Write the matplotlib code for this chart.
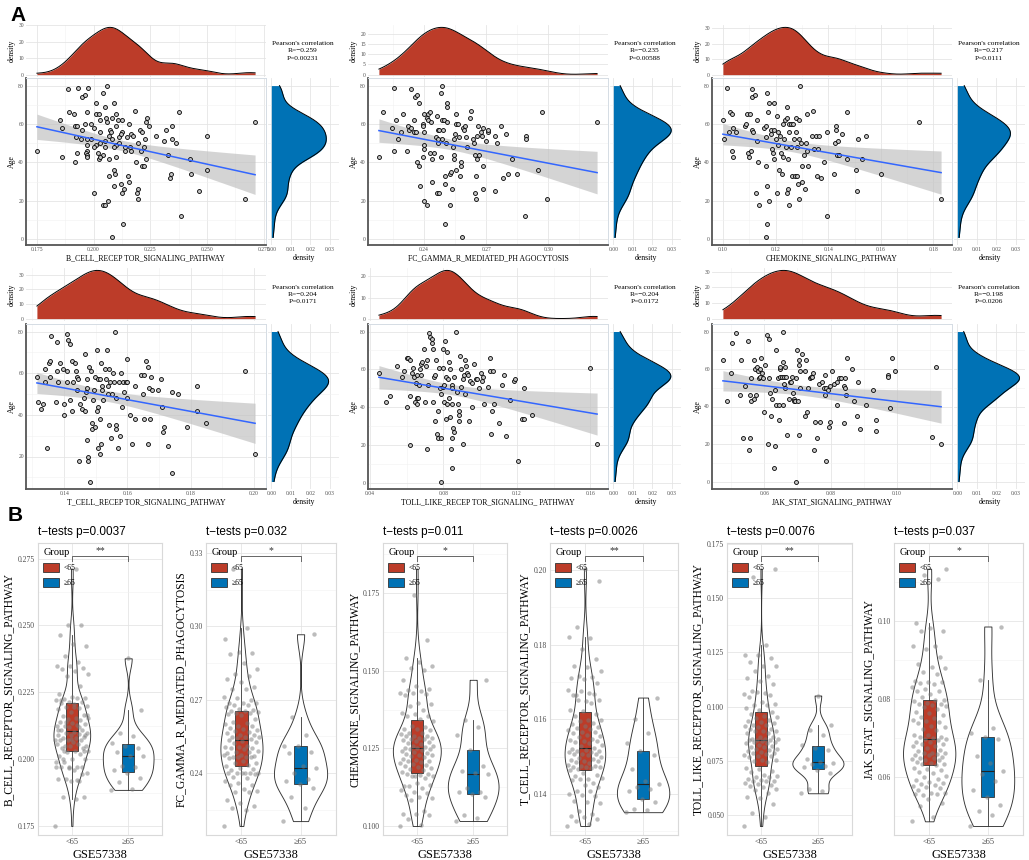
import numpy as np
import matplotlib.pyplot as plt
from matplotlib.ticker import MultipleLocator, FormatStrFormatter
from matplotlib.patches import Patch

plt.rcParams['font.family'] = ['Liberation Serif', 'DejaVu Serif']

# ---- data: (pathway score, age) per sample ----
bcell_pts = [
    (0.1750, 46), (0.1852, 62), (0.1860, 58), (0.1860, 43), (0.1885, 78), (0.1890, 66), (0.1915, 65),
    (0.1920, 59), (0.1927, 59), (0.1920, 40), (0.1927, 45), (0.1930, 79), (0.1950, 74), (0.1960, 75),
    (0.1950, 57), (0.1960, 60), (0.1970, 66), (0.1975, 79), (0.1970, 52), (0.1970, 46), (0.1965, 45),
    (0.1970, 44), (0.1970, 43), (0.1990, 60), (0.2000, 24), (0.2000, 58), (0.2011, 71), (0.2010, 65),
    (0.2025, 65), (0.2010, 49), (0.2020, 45), (0.2025, 42), (0.2030, 62), (0.2030, 56), (0.2040, 76),
    (0.2050, 69), (0.2040, 44), (0.2043, 18), (0.2050, 18), (0.2060, 80), (0.2055, 63), (0.2058, 61),
    (0.2050, 51), (0.2050, 48), (0.2064, 20), (0.2070, 33), (0.2070, 42), (0.2073, 57), (0.2070, 54),
    (0.2080, 63), (0.2080, 52), (0.2083, 1), (0.2088, 71), (0.2090, 36), (0.2090, 28), (0.2095, 34),
    (0.2098, 65), (0.2098, 59), (0.2098, 49), (0.2100, 43), (0.2108, 62), (0.2110, 50), (0.2120, 29),
    (0.2123, 24), (0.2127, 62), (0.2125, 56), (0.2130, 8), (0.2134, 26), (0.2137, 46), (0.2146, 53),
    (0.2150, 33), (0.2155, 30), (0.2155, 60), (0.2160, 48), (0.2165, 55), (0.2175, 54), (0.2183, 67),
    (0.2186, 40), (0.2190, 24), (0.2196, 21), (0.2197, 26), (0.2205, 57), (0.2210, 46), (0.2215, 56),
    (0.2212, 38), (0.2222, 38), (0.2230, 42), (0.2225, 52), (0.2230, 61), (0.2234, 63), (0.2244, 59),
    (0.2275, 54), (0.2310, 51), (0.2320, 57), (0.2330, 44), (0.2336, 32), (0.2340, 34), (0.2347, 59),
    (0.2347, 52), (0.2365, 50), (0.2377, 66), (0.2386, 12), (0.2424, 42), (0.2430, 34), (0.2466, 25),
    (0.2500, 54), (0.2501, 36), (0.2668, 21), (0.2712, 61), (0.2000, 48), (0.2030, 50), (0.2077, 56),
    (0.2110, 53), (0.2120, 55), (0.2140, 48), (0.2165, 46), (0.2195, 50), (0.2220, 48), (0.1945, 52),
    (0.1970, 49), (0.1990, 52), (0.1922, 53), (0.2030, 43), (0.2090, 48),
]
fcgamma_pts = [
    (0.2183, 43), (0.2203, 66), (0.2248, 58), (0.2256, 79), (0.2256, 46), (0.2265, 62), (0.2275, 52),
    (0.2288, 56), (0.2300, 65), (0.2320, 46), (0.2323, 59), (0.2327, 57), (0.2336, 58), (0.2339, 78),
    (0.2352, 62), (0.2352, 56), (0.2355, 74), (0.2360, 56), (0.2368, 75), (0.2368, 40), (0.2374, 71),
    (0.2378, 38), (0.2382, 28), (0.2395, 60), (0.2398, 59), (0.2400, 49), (0.2400, 47), (0.2398, 43),
    (0.2400, 65), (0.2400, 56), (0.2400, 20), (0.2413, 18), (0.2416, 63), (0.2419, 65), (0.2422, 62),
    (0.2427, 66), (0.2427, 45), (0.2432, 61), (0.2439, 42), (0.2440, 30), (0.2448, 45), (0.2459, 53),
    (0.2464, 64), (0.2464, 24), (0.2472, 24), (0.2467, 57), (0.2467, 52), (0.2470, 50), (0.2475, 57),
    (0.2480, 43), (0.2483, 76), (0.2487, 80), (0.2487, 62), (0.2487, 52), (0.2491, 57), (0.2496, 62),
    (0.2500, 29), (0.2503, 8), (0.2504, 33), (0.2508, 50), (0.2511, 71), (0.2511, 69), (0.2512, 61),
    (0.2524, 18), (0.2528, 34), (0.2532, 35), (0.2536, 26), (0.2540, 48), (0.2543, 52), (0.2545, 44),
    (0.2545, 42), (0.2548, 55), (0.2556, 60), (0.2557, 65), (0.2557, 36), (0.2564, 60), (0.2567, 53),
    (0.2572, 33), (0.2577, 38), (0.2580, 40), (0.2585, 1), (0.2590, 58), (0.2593, 57), (0.2599, 59),
    (0.2604, 53), (0.2609, 48), (0.2620, 63), (0.2628, 67), (0.2636, 52), (0.2640, 50), (0.2644, 44),
    (0.2644, 24), (0.2650, 21), (0.2652, 33), (0.2655, 42), (0.2657, 54), (0.2660, 59), (0.2668, 44),
    (0.2676, 56), (0.2679, 54), (0.2684, 58), (0.2684, 38), (0.2684, 26), (0.2700, 51), (0.2708, 56),
    (0.2711, 57), (0.2743, 54), (0.2743, 25), (0.2753, 50), (0.2772, 59), (0.2783, 32), (0.2795, 55),
    (0.2804, 34), (0.2825, 42), (0.2849, 34), (0.2885, 12), (0.2890, 54), (0.2894, 52), (0.2949, 36),
    (0.2967, 66), (0.2994, 21), (0.3235, 61),
]
chemokine_pts = [
    (0.1000, 62), (0.1004, 52), (0.1016, 79), (0.1023, 56), (0.1027, 66), (0.1035, 65), (0.1035, 46),
    (0.1038, 43), (0.1038, 58), (0.1048, 56), (0.1084, 59), (0.1089, 60), (0.1092, 65), (0.1095, 45),
    (0.1099, 43), (0.1103, 65), (0.1105, 46), (0.1109, 78), (0.1111, 74), (0.1111, 57), (0.1115, 56),
    (0.1122, 75), (0.1124, 24), (0.1128, 62), (0.1133, 40), (0.1137, 18), (0.1130, 51), (0.1156, 58),
    (0.1162, 53), (0.1162, 38), (0.1165, 59), (0.1166, 28), (0.1168, 76), (0.1166, 8), (0.1162, 1),
    (0.1172, 66), (0.1175, 20), (0.1177, 71), (0.1181, 57), (0.1184, 55), (0.1187, 47), (0.1190, 45),
    (0.1194, 71), (0.1194, 42), (0.1196, 57), (0.1200, 52), (0.1204, 24), (0.1206, 64), (0.1209, 56),
    (0.1209, 49), (0.1213, 36), (0.1216, 54), (0.1222, 45), (0.1225, 34), (0.1228, 60), (0.1229, 43),
    (0.1232, 52), (0.1235, 62), (0.1238, 48), (0.1242, 63), (0.1244, 69), (0.1244, 24), (0.1247, 26),
    (0.1247, 42), (0.1250, 18), (0.1250, 60), (0.1253, 56), (0.1257, 60), (0.1259, 48), (0.1263, 33),
    (0.1267, 60), (0.1270, 52), (0.1273, 33), (0.1276, 56), (0.1279, 63), (0.1280, 48), (0.1282, 33),
    (0.1285, 29), (0.1289, 62), (0.1289, 52), (0.1291, 21), (0.1292, 80), (0.1295, 50), (0.1299, 30),
    (0.1301, 38), (0.1308, 44), (0.1311, 26), (0.1314, 50), (0.1318, 65), (0.1320, 46), (0.1323, 38),
    (0.1337, 54), (0.1343, 67), (0.1346, 47), (0.1353, 54), (0.1356, 33), (0.1361, 47), (0.1365, 54),
    (0.1373, 32), (0.1386, 40), (0.1394, 56), (0.1396, 12), (0.1422, 34), (0.1425, 50), (0.1428, 59),
    (0.1430, 57), (0.1434, 44), (0.1437, 51), (0.1441, 44), (0.1451, 55), (0.1470, 42), (0.1471, 66),
    (0.1504, 36), (0.1510, 25), (0.1514, 52), (0.1528, 42), (0.1542, 54), (0.1599, 34), (0.1744, 61),
    (0.1829, 21),
]
tcell_pts = [
    (0.1314, 58), (0.1319, 46), (0.1328, 43), (0.1332, 45), (0.1338, 56), (0.1340, 62), (0.1346, 24),
    (0.1351, 65), (0.1356, 66), (0.1359, 78), (0.1354, 58), (0.1375, 46), (0.1377, 75), (0.1379, 61),
    (0.1380, 56), (0.1387, 65), (0.1395, 62), (0.1398, 40), (0.1401, 45), (0.1408, 79), (0.1409, 56),
    (0.1412, 76), (0.1409, 61), (0.1419, 74), (0.1419, 47), (0.1424, 42), (0.1426, 66), (0.1435, 65),
    (0.1437, 61), (0.1429, 56), (0.1440, 58), (0.1443, 57), (0.1440, 52), (0.1447, 18), (0.1450, 45),
    (0.1455, 43), (0.1464, 48), (0.1466, 69), (0.1468, 51), (0.1466, 42), (0.1471, 57), (0.1471, 53),
    (0.1471, 28), (0.1474, 20), (0.1474, 18), (0.1478, 63), (0.1482, 8), (0.1485, 61), (0.1487, 33),
    (0.1489, 36), (0.1492, 47), (0.1494, 52), (0.1497, 58), (0.1499, 34), (0.1503, 71), (0.1503, 42),
    (0.1506, 57), (0.1508, 24), (0.1508, 44), (0.1513, 21), (0.1513, 38), (0.1514, 57), (0.1516, 65),
    (0.1516, 26), (0.1518, 52), (0.1520, 54), (0.1524, 47), (0.1529, 62), (0.1531, 57), (0.1536, 71),
    (0.1537, 54), (0.1539, 50), (0.1541, 62), (0.1542, 35), (0.1545, 56), (0.1548, 29), (0.1552, 50),
    (0.1555, 60), (0.1558, 56), (0.1562, 80), (0.1564, 33), (0.1565, 35), (0.1565, 48), (0.1570, 24),
    (0.1573, 56), (0.1576, 30), (0.1579, 60), (0.1583, 44), (0.1586, 56), (0.1589, 51), (0.1594, 56),
    (0.1597, 56), (0.1599, 48), (0.1600, 67), (0.1608, 40), (0.1613, 26), (0.1623, 38), (0.1625, 54),
    (0.1644, 59), (0.1652, 59), (0.1652, 38), (0.1649, 50), (0.1658, 66), (0.1665, 63), (0.1668, 53),
    (0.1675, 58), (0.1678, 52), (0.1670, 38), (0.1665, 26), (0.1696, 52), (0.1707, 57), (0.1710, 44),
    (0.1712, 32), (0.1715, 34), (0.1728, 25), (0.1740, 51), (0.1742, 12), (0.1761, 50), (0.1788, 34),
    (0.1820, 42), (0.1818, 54), (0.1848, 36), (0.1971, 61), (0.2003, 21),
]
toll_pts = [
    (0.0449, 58), (0.0489, 43), (0.0509, 46), (0.0549, 62), (0.0576, 56), (0.0585, 59), (0.0600, 40),
    (0.0600, 66), (0.0609, 66), (0.0616, 20), (0.0618, 46), (0.0620, 65), (0.0631, 58), (0.0635, 61),
    (0.0640, 56), (0.0645, 43), (0.0649, 53), (0.0655, 42), (0.0658, 57), (0.0658, 45), (0.0662, 45),
    (0.0667, 52), (0.0673, 60), (0.0676, 57), (0.0680, 63), (0.0685, 64), (0.0695, 71), (0.0698, 43),
    (0.0704, 62), (0.0709, 65), (0.0713, 18), (0.0718, 52), (0.0722, 79), (0.0727, 77), (0.0736, 76),
    (0.0740, 74), (0.0745, 71), (0.0745, 43), (0.0749, 56), (0.0753, 57), (0.0753, 33), (0.0758, 65),
    (0.0767, 26), (0.0771, 24), (0.0773, 38), (0.0776, 61), (0.0782, 50), (0.0785, 24), (0.0785, 47),
    (0.0789, 1), (0.0795, 51), (0.0800, 61), (0.0800, 71), (0.0804, 43), (0.0804, 52), (0.0807, 75),
    (0.0813, 56), (0.0813, 34), (0.0818, 42), (0.0822, 69), (0.0825, 55), (0.0831, 45), (0.0831, 64),
    (0.0835, 35), (0.0836, 60), (0.0840, 18), (0.0844, 52), (0.0845, 8), (0.0845, 24), (0.0849, 42),
    (0.0849, 50), (0.0851, 29), (0.0858, 27), (0.0858, 56), (0.0867, 80), (0.0876, 48), (0.0880, 42),
    (0.0885, 38), (0.0885, 36), (0.0885, 33), (0.0891, 67), (0.0895, 51), (0.0898, 60), (0.0904, 55),
    (0.0909, 21), (0.0913, 57), (0.0916, 65), (0.0916, 47), (0.0922, 62), (0.0927, 58), (0.0935, 57),
    (0.0940, 33), (0.0945, 54), (0.0953, 40), (0.0958, 53), (0.0964, 63), (0.0976, 55), (0.0985, 55),
    (0.0995, 50), (0.1007, 58), (0.1009, 54), (0.1013, 56), (0.1022, 42), (0.1044, 51), (0.1051, 66),
    (0.1053, 59), (0.1067, 59), (0.1058, 26), (0.1064, 38), (0.1073, 42), (0.1104, 32), (0.1116, 52),
    (0.1131, 57), (0.1140, 25), (0.1164, 44), (0.1185, 54), (0.1189, 55), (0.1207, 12), (0.1225, 34),
    (0.1240, 34), (0.1236, 50), (0.1282, 36), (0.1598, 61), (0.1636, 21),
]
jak_pts = [
    (0.0475, 65), (0.0487, 43), (0.0499, 58), (0.0502, 74), (0.0514, 79), (0.0527, 46), (0.0529, 65),
    (0.0535, 23), (0.0543, 51), (0.0550, 75), (0.0556, 23), (0.0556, 46), (0.0555, 17), (0.0560, 55),
    (0.0560, 43), (0.0568, 65), (0.0568, 44), (0.0573, 60), (0.0575, 46), (0.0578, 61), (0.0581, 59),
    (0.0583, 55), (0.0586, 60), (0.0588, 56), (0.0591, 66), (0.0593, 58), (0.0596, 55), (0.0600, 37),
    (0.0603, 62), (0.0608, 78), (0.0611, 20), (0.0613, 55), (0.0615, 76), (0.0618, 47), (0.0620, 35),
    (0.0623, 44), (0.0630, 7), (0.0633, 19), (0.0633, 49), (0.0636, 41), (0.0636, 70), (0.0640, 55),
    (0.0643, 33), (0.0643, 41), (0.0646, 60), (0.0648, 61), (0.0648, 56), (0.0653, 56), (0.0655, 80),
    (0.0656, 41), (0.0658, 64), (0.0660, 52), (0.0661, 56), (0.0663, 50), (0.0663, 61), (0.0667, 56),
    (0.0669, 25), (0.0674, 44), (0.0679, 53), (0.0681, 53), (0.0684, 56), (0.0686, 47), (0.0689, 44),
    (0.0691, 43), (0.0694, 43), (0.0697, 55), (0.0697, 0), (0.0699, 70), (0.0701, 43), (0.0704, 25),
    (0.0704, 65), (0.0704, 62), (0.0707, 59), (0.0707, 50), (0.0714, 68), (0.0722, 35), (0.0724, 59),
    (0.0726, 65), (0.0729, 37), (0.0731, 50), (0.0739, 55), (0.0741, 56), (0.0744, 56), (0.0747, 58),
    (0.0751, 17), (0.0754, 32), (0.0759, 23), (0.0764, 52), (0.0767, 32), (0.0774, 53), (0.0779, 50),
    (0.0782, 57), (0.0784, 46), (0.0787, 11), (0.0787, 50), (0.0791, 49), (0.0795, 29), (0.0798, 32),
    (0.0805, 59), (0.0799, 51), (0.0812, 52), (0.0820, 41), (0.0820, 53), (0.0825, 55), (0.0832, 55),
    (0.0840, 51), (0.0842, 31), (0.0845, 50), (0.0845, 55), (0.0847, 46), (0.0850, 66), (0.0865, 60),
    (0.0870, 43), (0.0880, 35), (0.0882, 53), (0.0890, 28), (0.0908, 41), (0.0929, 49), (0.0936, 33),
    (0.0936, 27), (0.0974, 57), (0.0974, 56), (0.0981, 39), (0.0986, 66), (0.0996, 59), (0.1107, 24),
    (0.1119, 61), (0.1134, 20),
]

scatter_xlabels = ['B_CELL_RECEP TOR_SIGNALING_PATHWAY', 'FC_GAMMA_R_MEDIATED_PH AGOCYTOSIS',
                   'CHEMOKINE_SIGNALING_PATHWAY', 'T_CELL_RECEP TOR_SIGNALING_PATHWAY',
                   'TOLL_LIKE_RECEP TOR_SIGNALING_ PATHWAY', 'JAK_STAT_SIGNALING_PATHWAY']
violin_ylabels = ['B_CELL_RECEPTOR_SIGNALING_PATHWAY', 'FC_GAMMA_R_MEDIATED_PHAGOCYTOSIS',
                  'CHEMOKINE_SIGNALING_PATHWAY', 'T_CELL_RECEPTOR_SIGNALING_PATHWAY',
                  'TOLL_LIKE_RECEPTOR_SIGNALING_PATHWAY', 'JAK_STAT_SIGNALING_PATHWAY']
pearson_r = ['−0.259', '−0.235', '−0.217', '−0.204', '−0.204', '−0.198']
pearson_p = ['0.00231', '0.00588', '0.0111', '0.0171', '0.0172', '0.0206']
ttest_p = ['0.0037', '0.032', '0.011', '0.0026', '0.0076', '0.037']
signif = ['**', '*', '*', '**', '**', '*']
group_labels = ['<65', '≥65']

all_pts = [bcell_pts, fcgamma_pts, chemokine_pts, tcell_pts, toll_pts, jak_pts]

# axis tick steps / formats (style)
scatter_xstep = [0.025, 0.03, 0.02, 0.02, 0.04, 0.02]
scatter_xfmt = ['%.3f', '%.2f', '%.2f', '%.2f', '%.2f', '%.2f']
dens_ystep = [10, 5, 10, 10, 10, 10]
violin_ystep = [0.025, 0.03, 0.025, 0.02, 0.025, 0.02]
violin_yfmt = ['%.3f', '%.2f', '%.3f', '%.2f', '%.3f', '%.2f']

RED = '#BC3C29'
BLUE = '#0072B5'
W, H = 1029, 860


def rect(l, t, w, h):
    return [l / W, 1 - (t + h) / H, w / W, h / H]


def bw_nrd0(v):
    sd = np.std(v, ddof=1)
    q75, q25 = np.percentile(v, [75, 25])
    lo = min(sd, (q75 - q25) / 1.34)
    if lo <= 0:
        lo = sd
    return 0.9 * lo * len(v) ** -0.2


def kde(v, grid):
    bw = bw_nrd0(v)
    z = (grid[:, None] - v[None, :]) / bw
    return np.exp(-0.5 * z ** 2).sum(1) / (len(v) * bw * np.sqrt(2 * np.pi))


def lm_band(x, y, xs):
    n = len(x)
    b, a = np.polyfit(x, y, 1)
    res = y - (a + b * x)
    s = np.sqrt((res ** 2).sum() / (n - 2))
    se = s * np.sqrt(1 / n + (xs - x.mean()) ** 2 / ((x - x.mean()) ** 2).sum())
    df = n - 2
    z = 1.959964
    t = z + (z ** 3 + z) / (4 * df) + (5 * z ** 5 + 16 * z ** 3 + 3 * z) / (96 * df ** 2)
    return a + b * xs, t * se


def light_grid(ax, which='both'):
    ax.set_axisbelow(True)
    ax.grid(which='major', axis=which, color='#E3E3E3', lw=0.55)
    ax.grid(which='minor', axis=which, color='#F1F1F1', lw=0.4)


fig = plt.figure(figsize=(W / 100, H / 100), dpi=100)
fig.text(10 / W, 1 - 6 / H, 'A', fontsize=15, fontweight='bold', family='Liberation Sans', va='top')
fig.text(8 / W, 1 - 506 / H, 'B', fontsize=15, fontweight='bold', family='Liberation Sans', va='top')

col_left = [26, 368, 712]
row_geo = [(25, 52, 78, 167), (268, 53, 324, 165)]  # density top, height, scatter top, height

for k, pts in enumerate(all_pts):
    arr = np.array(pts, dtype=float)
    x, age = arr[:, 0], arr[:, 1]
    r, c = divmod(k, 3)
    L = col_left[c]
    dt, dh, st, sh = row_geo[r]

    ax = fig.add_axes(rect(L, st, 240, sh))
    axt = fig.add_axes(rect(L, dt, 240, dh), sharex=ax)
    axr = fig.add_axes(rect(L + 242, st, 71, sh), sharey=ax)

    # scatter + lm fit
    xs = np.linspace(x.min(), x.max(), 100)
    fit, ci = lm_band(x, age, xs)
    ax.fill_between(xs, fit - ci, fit + ci, color='#BEBEBE', alpha=0.65, lw=0, zorder=2)
    ax.scatter(x, age, s=8, facecolor='#C4C4C4', edgecolor='black', linewidth=0.6, zorder=3)
    ax.plot(xs, fit, color='#3366FF', lw=1.1, zorder=4)
    ax.xaxis.set_major_locator(MultipleLocator(scatter_xstep[k]))
    ax.xaxis.set_minor_locator(MultipleLocator(scatter_xstep[k] / 2))
    ax.xaxis.set_major_formatter(FormatStrFormatter(scatter_xfmt[k]))
    ax.yaxis.set_major_locator(MultipleLocator(20))
    ax.yaxis.set_minor_locator(MultipleLocator(10))
    light_grid(ax)
    ax.tick_params(which='both', length=0, labelsize=4, labelcolor='#4D4D4D', pad=1.5)
    for s in ['left', 'bottom']:
        ax.spines[s].set_color('#555555')
        ax.spines[s].set_linewidth(1.3)
    for s in ['top', 'right']:
        ax.spines[s].set_color('#D5DCE4')
        ax.spines[s].set_linewidth(0.7)
    ax.set_xlabel(scatter_xlabels[k], fontsize=5.6, labelpad=1.5)
    ax.set_ylabel('Age', fontsize=5.6, labelpad=1.5)

    # top density of pathway score
    gx = np.linspace(x.min(), x.max(), 300)
    dx = kde(x, gx)
    axt.fill_between(gx, 0, dx, color=RED, lw=0, zorder=2)
    axt.plot(gx, dx, color='black', lw=0.7, zorder=3)
    axt.set_ylim(-0.05 * dx.max(), dx.max() * 1.05)
    axt.yaxis.set_major_locator(MultipleLocator(dens_ystep[k]))
    light_grid(axt)
    axt.grid(which='minor', axis='y', visible=False)
    for s in axt.spines.values():
        s.set_visible(False)
    axt.tick_params(which='both', length=0, labelsize=4, labelcolor='#4D4D4D', pad=1.5)
    axt.tick_params(axis='x', labelbottom=False)
    axt.set_ylabel('density', fontsize=5.6, labelpad=1.5)

    # right density of age
    ga = np.linspace(age.min(), age.max(), 300)
    da = kde(age, ga)
    axr.fill_betweenx(ga, 0, da, color=BLUE, lw=0, zorder=2)
    axr.plot(da, ga, color='black', lw=0.7, zorder=3)
    axr.set_xlim(-0.0017, 0.0348)
    axr.xaxis.set_major_locator(MultipleLocator(0.01))
    axr.xaxis.set_major_formatter(FormatStrFormatter('%.2f'))
    light_grid(axr)
    axr.grid(which='minor', axis='x', visible=False)
    for s in axr.spines.values():
        s.set_visible(False)
    axr.tick_params(which='both', length=0, labelsize=4, labelcolor='#4D4D4D', pad=1.5)
    axr.tick_params(axis='y', labelleft=False)
    axr.set_xlabel('density', fontsize=5.6, labelpad=1.5)

    fig.text((L + 277) / W, 1 - (dt + dh / 2) / H,
             "Pearson's correlation\nR=%s\nP=%s" % (pearson_r[k], pearson_p[k]),
             ha='center', va='center', fontsize=5.3, linespacing=1.55)

# ---- panel B: violin + box + jitter ----
box_lr = [(38, 162), (206, 336), (383, 507), (550, 678), (727, 852), (894, 1023)]
for k, pts in enumerate(all_pts):
    arr = np.array(pts, dtype=float)
    x, age = arr[:, 0], arr[:, 1]
    groups = [x[age < 65], x[age >= 65]]
    bl, br = box_lr[k]
    ax = fig.add_axes(rect(bl, 543, br - bl, 292))

    grids = [np.linspace(g.min(), g.max(), 250) for g in groups]
    dens = [kde(g, gr) for g, gr in zip(groups, grids)]
    dmax = max(d.max() for d in dens)
    for i, (gr, d) in enumerate(zip(grids, dens)):
        hw = 0.45 * d / dmax
        ax.fill_betweenx(gr, i - hw, i + hw, facecolor='white', edgecolor='#333333', lw=0.65, zorder=2)

    bp = ax.boxplot(groups, positions=[0, 1], widths=0.22, patch_artist=True, showfliers=False,
                    showcaps=False, whis=1.5, zorder=3,
                    medianprops=dict(color='#222222', lw=0.8),
                    whiskerprops=dict(color='#333333', lw=0.6),
                    boxprops=dict(edgecolor='#333333', lw=0.6))
    for patch, col in zip(bp['boxes'], [RED, BLUE]):
        patch.set_facecolor(col)

    for i, g in enumerate(groups):
        off = ((np.arange(len(g)) * 0.61803398875) % 1 - 0.5) * 0.6
        ax.scatter(i + off, g, s=10, color='#7A7A7A', alpha=0.5, lw=0, zorder=4)

    lo, hi = x.min(), x.max()
    rng = hi - lo
    yb = hi + 0.05 * rng
    ax.plot([0, 0, 1, 1], [yb - 0.02 * rng, yb, yb, yb - 0.02 * rng], color='#666666', lw=0.7, zorder=5)
    ax.text(0.5, yb + 0.004 * rng, signif[k], ha='center', va='bottom', fontsize=7, color='#333333')
    ax.set_ylim(lo - 0.035 * rng, hi + 0.10 * rng)
    ax.set_xlim(-0.6, 1.6)

    ax.set_xticks([0, 1])
    ax.set_xticklabels(group_labels)
    ax.yaxis.set_major_locator(MultipleLocator(violin_ystep[k]))
    ax.yaxis.set_minor_locator(MultipleLocator(violin_ystep[k] / 2))
    ax.yaxis.set_major_formatter(FormatStrFormatter(violin_yfmt[k]))
    light_grid(ax)
    ax.tick_params(which='both', length=0, labelcolor='#4D4D4D', pad=2)
    ax.tick_params(axis='y', labelsize=5.5)
    ax.tick_params(axis='x', labelsize=6)
    for s in ax.spines.values():
        s.set_color('#D9D9D9')
        s.set_linewidth(0.8)
    ax.set_xlabel('GSE57338', fontsize=9, labelpad=2)
    ax.set_ylabel(violin_ylabels[k], fontsize=8.3, labelpad=2)
    ax.set_title('t−tests p=%s' % ttest_p[k], loc='left', fontsize=8.5,
                 family=['Liberation Sans', 'DejaVu Sans'], pad=6)

    handles = [Patch(facecolor=RED, edgecolor='#333333', lw=0.6),
               Patch(facecolor=BLUE, edgecolor='#333333', lw=0.6)]
    leg = ax.legend(handles, group_labels, title='Group', loc='upper left', frameon=False,
                    fontsize=5.5, title_fontsize=7.5, handlelength=2.0, handleheight=1.3,
                    labelspacing=0.8, borderaxespad=0.3, handletextpad=0.6)
    leg._legend_box.align = 'left'
    leg.set_zorder(6)

fig.savefig('out.png', dpi=100)
